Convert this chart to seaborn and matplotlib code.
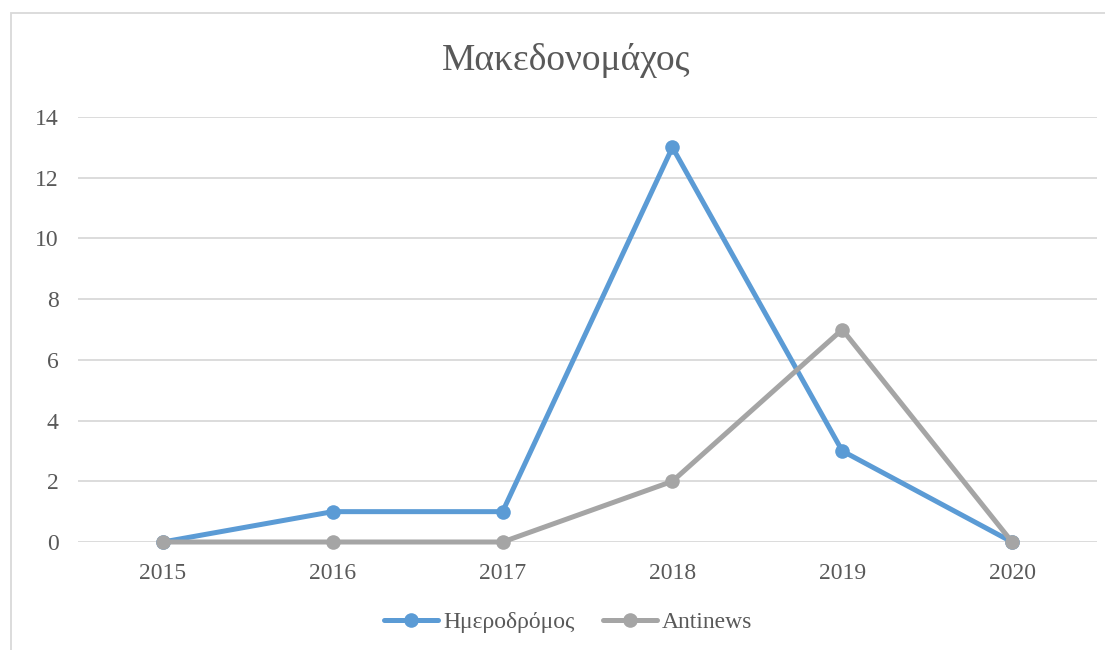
import numpy as np
import pandas as pd
import matplotlib
matplotlib.use("Agg")
import matplotlib.pyplot as plt
import seaborn as sns
from matplotlib.patches import Rectangle

years = ["2015", "2016", "2017", "2018", "2019", "2020"]
imerodromos = [0, 1, 1, 13, 3, 0]
antinews = [0, 0, 0, 2, 7, 0]
series_names = ["Ημεροδρόμος", "Antinews"]
palette = ["#5B9BD5", "#A5A5A5"]

df = pd.DataFrame({
    "year": years * 2,
    "value": imerodromos + antinews,
    "source": [series_names[0]] * len(years) + [series_names[1]] * len(years),
})

sns.set_style("white")
plt.rcParams["font.family"] = ["Liberation Serif", "DejaVu Serif"]
text_col = "#595959"

fig = plt.figure(figsize=(11.05, 6.5), dpi=100)
ax = fig.add_axes([78 / 1105, 1 - 542 / 650, (1097 - 78) / 1105, (542 - 117) / 650])

sns.lineplot(data=df, x="year", y="value", hue="source", palette=palette,
             marker="o", markersize=10.5, linewidth=3.6, markeredgewidth=0,
             sort=False, ax=ax, legend=False)
# markers sitting on the 0 line must not be cut in half
for ln in ax.lines:
    ln.set_clip_on(False)

ax.set_xlim(-0.5, len(years) - 0.5)
ax.set_ylim(0, 14)
ax.set_yticks(np.arange(0, 15, 2))
ax.yaxis.grid(True, color="#D9D9D9", linewidth=1.3)
ax.set_axisbelow(True)
for s in ax.spines.values():
    s.set_visible(False)
ax.tick_params(axis="both", length=0, labelsize=17, colors=text_col)
ax.tick_params(axis="y", pad=14)
ax.tick_params(axis="x", pad=15)
ax.set_xlabel("")
ax.set_ylabel("")

fig.text(566 / 1105, 1 - 60 / 650, "Μακεδονομάχος", ha="center", va="center",
         fontsize=27, color=text_col)

handles = [plt.Line2D([], [], color=c, linewidth=3.6, marker="o", markersize=10.5,
                      markeredgewidth=0) for c in palette]
fig.legend(handles, series_names, loc="center", bbox_to_anchor=(568 / 1105, 1 - 622 / 650),
           ncol=2, frameon=False, fontsize=17, labelcolor=text_col,
           handlelength=2.3, handletextpad=0.2, columnspacing=1.2)

fig.patches.append(Rectangle((11 / 1105, -0.05), 1.2, 1 - 13 / 650 + 0.05,
                             transform=fig.transFigure, fill=False,
                             edgecolor="#D9D9D9", linewidth=1.3))

fig.savefig("out.png", dpi=100, facecolor="white")
